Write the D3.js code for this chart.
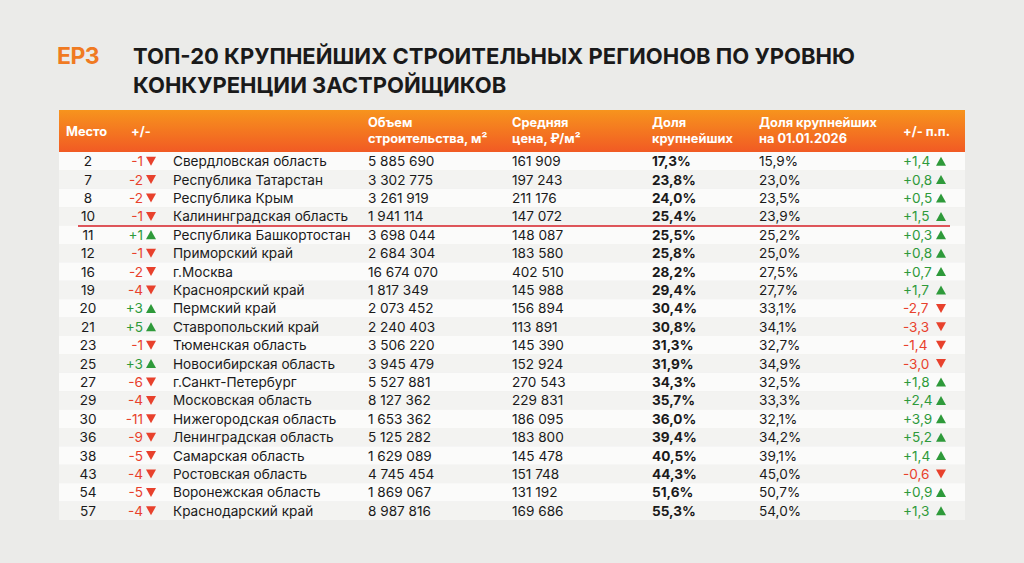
<!DOCTYPE html>
<html><head><meta charset="utf-8">
<script src="https://cdn.jsdelivr.net/npm/d3@7"></script>
<style>body{margin:0;background:#ebebe9;font-family:Inter,"Open Sans",sans-serif}</style>
</head><body><svg id="c" width="1024" height="563"></svg>
<script>
const ranks = [2,7,8,10,11,12,16,19,20,21,23,25,27,29,30,36,38,43,54,57];
const rankChange = [-1,-2,-2,-1,1,-1,-2,-4,3,5,-1,3,-6,-4,-11,-9,-5,-4,-5,-4];
const regions = ['Свердловская область','Республика Татарстан','Республика Крым','Калининградская область','Республика Башкортостан','Приморский край','г.Москва','Красноярский край','Пермский край','Ставропольский край','Тюменская область','Новосибирская область','г.Санкт-Петербург','Московская область','Нижегородская область','Ленинградская область','Самарская область','Ростовская область','Воронежская область','Краснодарский край'];
const volume = ['5 885 690','3 302 775','3 261 919','1 941 114','3 698 044','2 684 304','16 674 070','1 817 349','2 073 452','2 240 403','3 506 220','3 945 479','5 527 881','8 127 362','1 653 362','5 125 282','1 629 089','4 745 454','1 869 067','8 987 816'];
const price = ['161 909','197 243','211 176','147 072','148 087','183 580','402 510','145 988','156 894','113 891','145 390','152 924','270 543','229 831','186 095','183 800','145 478','151 748','131 192','169 686'];
const share = [17.3,23.8,24.0,25.4,25.5,25.8,28.2,29.4,30.4,30.8,31.3,31.9,34.3,35.7,36.0,39.4,40.5,44.3,51.6,55.3];
const share2026 = [15.9,23.0,23.5,23.9,25.2,25.0,27.5,27.7,33.1,34.1,32.7,34.9,32.5,33.3,32.1,34.2,39.1,45.0,50.7,54.0];
const pp = [1.4,0.8,0.5,1.5,0.3,0.8,0.7,1.7,-2.7,-3.3,-1.4,-3.0,1.8,2.4,3.9,5.2,1.4,-0.6,0.9,1.3];
const highlightRank = 10;

const svg = d3.select('#c');
const X0 = 59, X1 = 965;
const fmt = v => (v > 0 ? '+' : '') + v.toFixed(1).replace('.', ',');
const pct = v => v.toFixed(1).replace('.', ',') + '%';
const RED = '#e8412c', GREEN = '#2e9a3a';
const FS = 13.6;

// title
svg.append('text').attr('x', 57).attr('y', 64).attr('font-size', 23).attr('font-weight', 700)
  .attr('fill', '#f07a22').attr('letter-spacing', -0.5).text('ЕРЗ');
svg.append('text').attr('x', 133).attr('y', 64).attr('font-size', 22).attr('font-weight', 700)
  .attr('fill', '#1a1a1a').text('ТОП-20 КРУПНЕЙШИХ СТРОИТЕЛЬНЫХ РЕГИОНОВ ПО УРОВНЮ');
svg.append('text').attr('x', 133).attr('y', 93).attr('font-size', 22).attr('font-weight', 700)
  .attr('fill', '#1a1a1a').text('КОНКУРЕНЦИИ ЗАСТРОЙЩИКОВ');

// header
const defs = svg.append('defs');
const g = defs.append('linearGradient').attr('id', 'hg').attr('x1', 0).attr('y1', 0).attr('x2', 0).attr('y2', 1);
g.append('stop').attr('offset', 0).attr('stop-color', '#f7941d');
g.append('stop').attr('offset', 1).attr('stop-color', '#f15a24');
svg.append('rect').attr('x', X0).attr('y', 110).attr('width', X1 - X0).attr('height', 42).attr('fill', 'url(#hg)');

const hdr = [
  {x: 66, lines: ['Место']}, {x: 131, lines: ['+/-']},
  {x: 368, lines: ['Объем', 'строительства, м²']},
  {x: 512, lines: ['Средняя', 'цена, ₽/м²']},
  {x: 652, lines: ['Доля', 'крупнейших']},
  {x: 759, lines: ['Доля крупнейших', 'на 01.01.2026']},
  {x: 903, lines: ['+/- п.п.']}
];
hdr.forEach(h => {
  const y0 = h.lines.length === 1 ? 136 : 127;
  h.lines.forEach((l, i) => svg.append('text').attr('x', h.x).attr('y', y0 + i * 16)
    .attr('font-size', 12.8).attr('font-weight', 700).attr('fill', '#fff').text(l));
});

// rows
const y = d3.scaleBand().domain(d3.range(ranks.length)).range([152, 520]);
const rows = svg.selectAll('g.row').data(d3.range(ranks.length)).join('g')
  .attr('transform', i => `translate(0,${y(i)})`);
rows.append('rect').attr('x', X0).attr('width', X1 - X0).attr('height', y.bandwidth())
  .attr('fill', i => i % 2 ? '#f3f3f1' : '#fbfbfa');
const ty = y.bandwidth() / 2 + 5;
const txt = (sel, x, f, opts = {}) => sel.append('text').attr('x', x).attr('y', ty)
  .attr('font-size', FS).attr('fill', opts.color || '#1a1a1a')
  .attr('font-weight', opts.bold ? 700 : 400).attr('text-anchor', opts.anchor || 'start').text(f);
const tri = (sel, x, up, color) => sel.append('path')
  .attr('d', up ? `M${x},${ty - 0.5} l5,-9 l5,9z` : `M${x},${ty - 9.5} l10,0 l-5,9z`).attr('fill', color);

txt(rows, 88, i => ranks[i], {anchor: 'middle'});
rows.append('text').attr('x', 143).attr('y', ty).attr('font-size', FS).attr('text-anchor', 'end')
  .attr('fill', i => rankChange[i] > 0 ? GREEN : RED)
  .text(i => (rankChange[i] > 0 ? '+' : '') + rankChange[i]);
rows.each(function(i) {
  const s = d3.select(this);
  tri(s, 146, rankChange[i] > 0, rankChange[i] > 0 ? GREEN : RED);
  tri(s, 936, pp[i] > 0, pp[i] > 0 ? GREEN : RED);
});
txt(rows, 173, i => regions[i]);
txt(rows, 368, i => volume[i]);
txt(rows, 512, i => price[i]);
txt(rows, 652, i => pct(share[i]), {bold: true});
txt(rows, 759, i => pct(share2026[i]));
rows.append('text').attr('x', 903).attr('y', ty).attr('font-size', FS)
  .attr('fill', i => pp[i] > 0 ? GREEN : RED).text(i => fmt(pp[i]));

// highlight underline
const hi = ranks.indexOf(highlightRank);
svg.append('line').attr('x1', 78).attr('x2', 950)
  .attr('y1', y(hi) + y.bandwidth() + 0.5).attr('y2', y(hi) + y.bandwidth() + 0.5)
  .attr('stroke', '#d61f26').attr('stroke-width', 1.5);
</script></body></html>
